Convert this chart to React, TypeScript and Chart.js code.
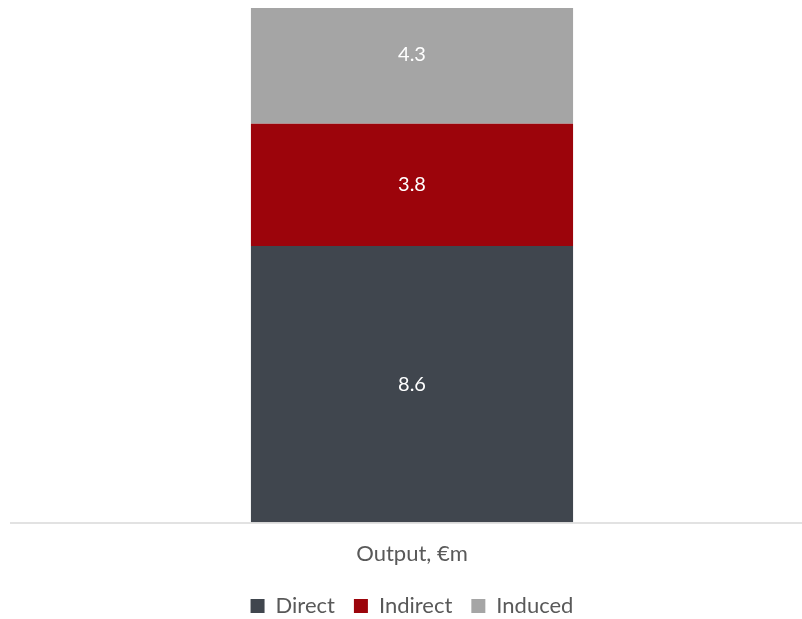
import React, { useEffect, useRef } from "react";
import { Chart, registerables } from "chart.js";

Chart.register(...registerables);

const categories = ["Output, €m"];
const seriesNames = ["Direct", "Indirect", "Induced"];
const directValues = [8.6];
const indirectValues = [3.8];
const inducedValues = [4.3];
const seriesColors = ["#40464e", "#9c040b", "#a5a5a5"];
const yMax = 16;

const FONT = "Lato, 'Open Sans', sans-serif";

const labelPlugin = {
  id: "segLabels",
  afterDatasetsDraw(chart: any) {
    const ctx = chart.ctx;
    ctx.save();
    ctx.fillStyle = "#ffffff";
    ctx.font = `20px ${FONT}`;
    ctx.textAlign = "center";
    ctx.textBaseline = "middle";
    chart.data.datasets.forEach((ds: any, i: number) => {
      const meta = chart.getDatasetMeta(i);
      meta.data.forEach((el: any, j: number) => {
        const v = ds.data[j];
        ctx.fillText(v.toFixed(1), el.x, (el.y + el.base) / 2);
      });
    });
    ctx.restore();
  },
};

const axisLinePlugin = {
  id: "axisLine",
  afterDraw(chart: any) {
    const ctx = chart.ctx;
    const y = chart.chartArea.bottom + 0.5;
    ctx.save();
    ctx.strokeStyle = "#d9d9d9";
    ctx.lineWidth = 1.5;
    ctx.beginPath();
    ctx.moveTo(10, y);
    ctx.lineTo(chart.width, y);
    ctx.stroke();
    ctx.restore();
  },
};

export default function App() {
  const ref = useRef<HTMLCanvasElement>(null);
  useEffect(() => {
    document.body.style.margin = "0";
    const common = { categoryPercentage: 1, barPercentage: 0.413 };
    const chart = new Chart(ref.current!, {
      type: "bar",
      data: {
        labels: categories,
        datasets: [
          { label: seriesNames[0], data: directValues, backgroundColor: seriesColors[0], ...common },
          { label: seriesNames[1], data: indirectValues, backgroundColor: seriesColors[1], ...common },
          { label: seriesNames[2], data: inducedValues, backgroundColor: seriesColors[2], ...common },
        ],
      },
      options: {
        animation: false,
        responsive: false,
        layout: { padding: { left: 22, right: 0, top: 8, bottom: -8 } },
        scales: {
          x: {
            stacked: true,
            grid: { display: false },
            border: { display: false },
            ticks: { color: "#595959", font: { size: 22, family: FONT }, padding: 10 },
            afterFit: (scale: any) => {
              scale.height -= 1;
            },
          },
          y: { stacked: true, display: false, min: 0, max: yMax },
        },
        plugins: {
          legend: {
            position: "bottom",
            labels: {
              color: "#595959",
              font: { size: 22, family: FONT },
              boxWidth: 14,
              boxHeight: 14,
              padding: 19,
            },
          },
          tooltip: { enabled: false },
        },
      },
      plugins: [labelPlugin, axisLinePlugin],
    });
    return () => chart.destroy();
  }, []);
  return (
    <div style={{ width: 802, height: 619, overflow: "hidden" }}>
      <canvas ref={ref} width={802} height={619} />
    </div>
  );
}
